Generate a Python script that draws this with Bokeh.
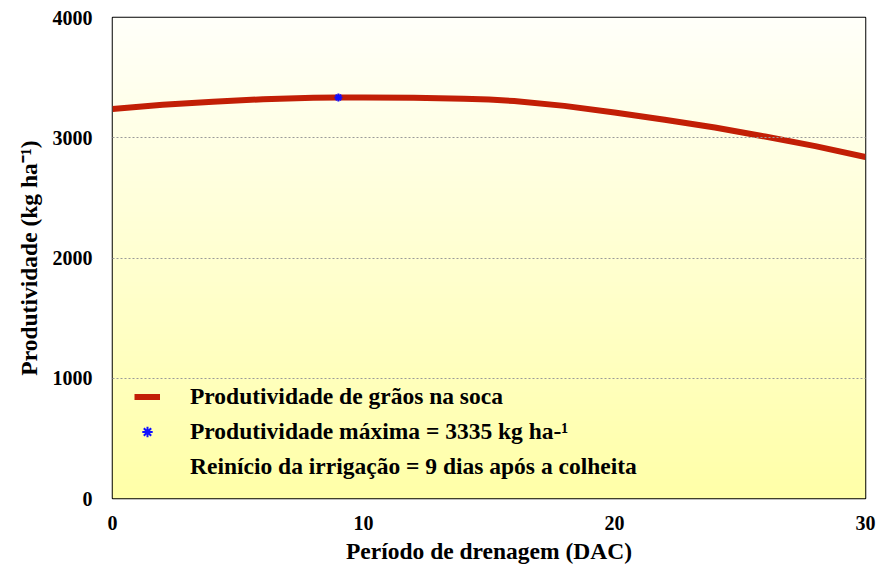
import numpy as np
from bokeh.plotting import figure
from bokeh.models import Range1d, FixedTicker, Legend, LegendItem
from bokeh.embed import file_html
from bokeh.resources import INLINE

# Data
dias = [0, 2, 4, 6, 8, 9, 10, 12, 14, 15, 16, 18, 20, 22, 24, 26, 28, 30]
produtividade = [3240, 3275, 3300, 3320, 3332, 3335, 3334, 3332, 3325, 3318,
                 3305, 3265, 3210, 3150, 3085, 3010, 2930, 2840]
max_x = [9]
max_y = [3335]
x_ticks = [0, 10, 20, 30]
y_ticks = [0, 1000, 2000, 3000, 4000]

FONT = "'Liberation Serif', 'Times New Roman', serif"

p = figure(frame_width=753, frame_height=481, output_backend="svg",
           toolbar_location=None, x_range=Range1d(0, 30), y_range=Range1d(0, 4000),
           min_border_left=112, min_border_top=17, min_border_right=12,
           min_border_bottom=66, background_fill_color="white",
           border_fill_color="white")

# vertical gradient background (white at top -> pale yellow at bottom)
n = 200
t = np.linspace(0, 1, n)  # 0 bottom, 1 top
top_c = np.array([255, 255, 250])
bot_c = np.array([255, 255, 168])
img = np.zeros((n, 1), dtype=np.uint32)
view = img.view(dtype=np.uint8).reshape((n, 1, 4))
for i in range(n):
    c = bot_c + (top_c - bot_c) * t[i]
    view[i, 0, 0] = int(c[0]); view[i, 0, 1] = int(c[1]); view[i, 0, 2] = int(c[2]); view[i, 0, 3] = 255
p.image_rgba(image=[img], x=0, y=0, dw=30, dh=4000, level="image")

curve = p.line(dias, produtividade, line_color="#C21F06", line_width=6)
star = p.scatter(max_x, max_y, marker="asterisk", size=8, line_color="#1010FF", line_width=2)
dummy = p.scatter([0], [0], size=0, alpha=0)

p.outline_line_color = "black"
p.outline_line_width = 1.5
p.xgrid.grid_line_color = None
p.ygrid.grid_line_color = "#9a9a9a"
p.ygrid.grid_line_dash = "2 2"
p.ygrid.grid_line_width = 1
p.ygrid.level = "overlay"

p.xaxis.ticker = FixedTicker(ticks=x_ticks)
p.yaxis.ticker = FixedTicker(ticks=y_ticks)
for ax in (p.xaxis[0], p.yaxis[0]):
    ax.axis_line_color = None
    ax.major_tick_line_color = None
    ax.minor_tick_line_color = None
    ax.major_label_text_font = FONT
    ax.major_label_text_font_style = "bold"
    ax.major_label_text_font_size = "20px"
    ax.major_label_text_color = "black"
    ax.axis_label_text_font = FONT
    ax.axis_label_text_font_style = "bold"
    ax.axis_label_text_font_size = "23.5px"
    ax.axis_label_text_color = "black"

p.xaxis.axis_label = "Período de drenagem (DAC)"
p.yaxis.axis_label = "Produtividade (kg ha⁻¹)"
p.xaxis.major_label_standoff = 11
p.xaxis.axis_label_standoff = 5
p.yaxis.major_label_standoff = 14
p.yaxis.axis_label_standoff = 8

legend = Legend(items=[
    LegendItem(label="Produtividade de grãos na soca", renderers=[curve]),
    LegendItem(label="Produtividade máxima = 3335 kg ha-¹", renderers=[star]),
    LegendItem(label="Reinício da irrigação = 9 dias após a colheita", renderers=[dummy]),
], location=(22, 14), orientation="vertical")
legend.background_fill_alpha = 0
legend.border_line_color = None
legend.padding = 0
legend.margin = 0
legend.spacing = 0
legend.glyph_width = 26
legend.glyph_height = 35
legend.label_height = 35
legend.label_standoff = 30
legend.label_text_font = FONT
legend.label_text_font_style = "bold"
legend.label_text_font_size = "23.5px"
legend.label_text_color = "black"
p.add_layout(legend, "center")

open("out.html", "w").write(file_html(p, INLINE))
